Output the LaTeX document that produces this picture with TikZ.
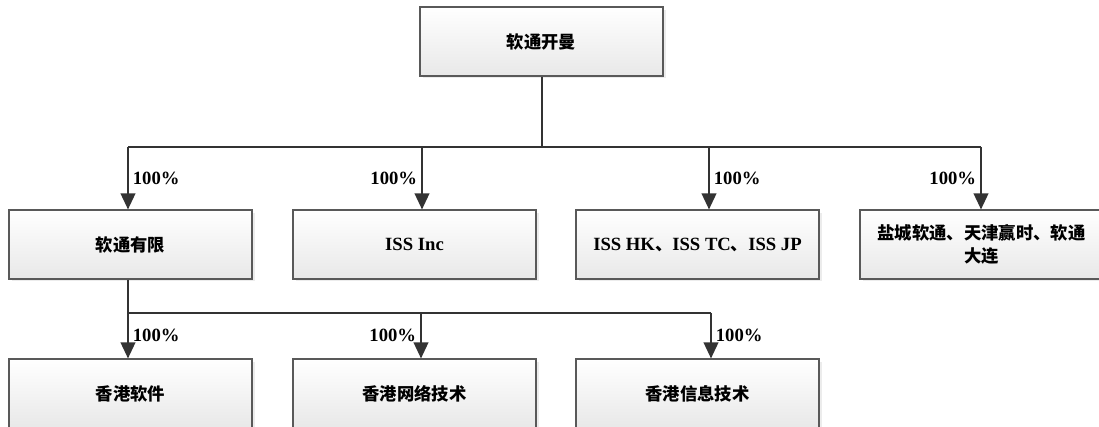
\documentclass[tikz,border=0pt]{standalone}
\usepackage{fontspec}
\setmainfont{Liberation Serif}
\newfontfamily\cjk{Noto Sans CJK SC}
\usetikzlibrary{arrows.meta,shadows}

\tikzset{
  unit/.style={draw=black!65, line width=1.1pt, top color=white, bottom color=black!9,
    minimum width=182pt, minimum height=51.5pt, inner sep=0pt, align=center,
    font=\fontsize{14}{17}\selectfont\bfseries,
    drop shadow={shadow xshift=2pt, shadow yshift=-2pt, fill=black!15}},
  cjkunit/.style={unit, font=\fontsize{13}{17}\selectfont\cjk\bfseries},
  link/.style={draw=black!80, line width=1.3pt},
  own/.style={link, -{Triangle[length=12pt, width=11pt]}},
  share/.style={font=\fontsize{14}{16}\selectfont\bfseries, inner sep=3pt},
}

\begin{document}
\begin{tikzpicture}[x=0.75pt, y=-0.75pt]
\useasboundingbox (0,0) rectangle (1099,427);
% parent company
\node[cjkunit] (iss) at (541.5,41.5) {软通开曼};
% first tier
\node[cjkunit] (ltd) at (130.5,244.5) {软通有限};
\node[unit] (inc) at (414.5,244.5) {ISS Inc};
\node[unit] (hk)  at (697.5,244.5) {ISS HK{\cjk\fontsize{13}{17}\selectfont 、}ISS TC{\cjk\fontsize{13}{17}\selectfont 、}ISS JP};
\node[cjkunit] (cn) at (981.5,244.5) {盐城软通、天津赢时、软通\\大连};
% second tier
\node[cjkunit] (soft) at (130.5,393.5) {香港软件};
\node[cjkunit] (net)  at (414.5,393.5) {香港网络技术};
\node[cjkunit] (info) at (697.5,393.5) {香港信息技术};

% bus below the parent
\coordinate (bus) at (542,147);
\coordinate (b1) at (128,147);
\coordinate (b2) at (422,147);
\coordinate (b3) at (709,147);
\coordinate (b4) at (981,147);
\draw[link] (iss.south -| bus) -- (bus);
\draw[link] (b1) -- (b4);
\draw[own] (b1) -- (b1 |- ltd.north) node[share, midway, right] {100\%};
\draw[own] (b2) -- (b2 |- inc.north) node[share, midway, left]  {100\%};
\draw[own] (b3) -- (b3 |- hk.north)  node[share, midway, right] {100\%};
\draw[own] (b4) -- (b4 |- cn.north)  node[share, midway, left]  {100\%};

% bus below 软通有限
\coordinate (c1) at (128,313);
\coordinate (c2) at (421,313);
\coordinate (c3) at (711,313);
\draw[link] (ltd.south -| c1) -- (c1) -- (c3);
\draw[own] (c1) -- (c1 |- soft.north) node[share, midway, right] {100\%};
\draw[own] (c2) -- (c2 |- net.north)  node[share, midway, left]  {100\%};
\draw[own] (c3) -- (c3 |- info.north) node[share, midway, right] {100\%};
\end{tikzpicture}
\end{document}
